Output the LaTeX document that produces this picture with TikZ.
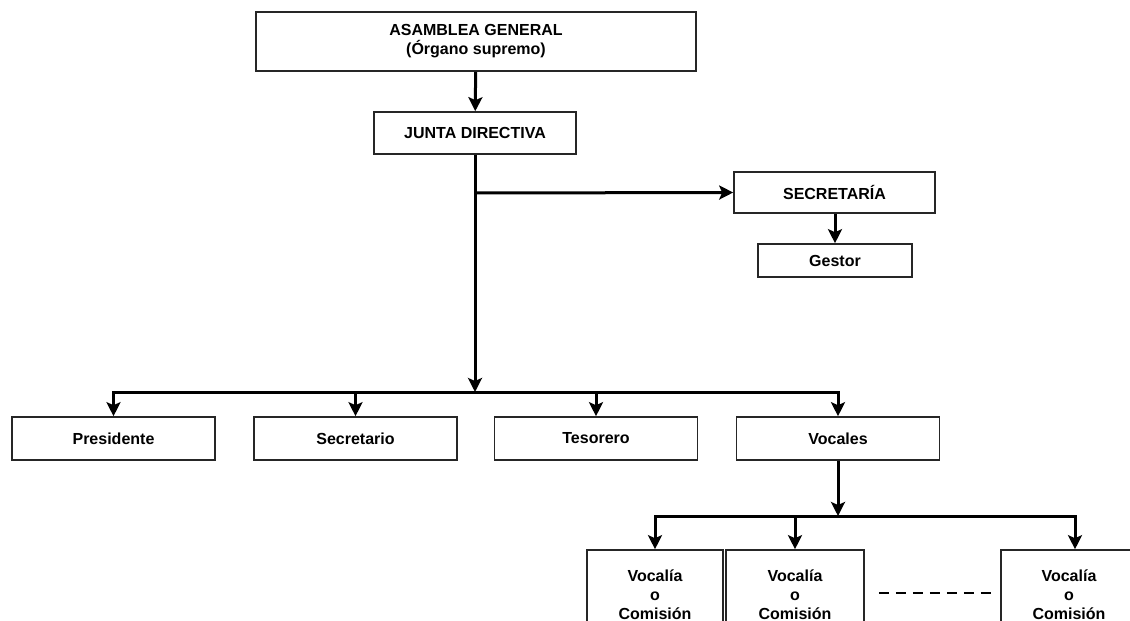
\documentclass[tikz,border=0pt]{standalone}
\usepackage{fontspec}
\setmainfont{Liberation Sans}
\usetikzlibrary{arrows.meta}

\tikzset{
  caja/.style={draw=black!85, line width=1.6pt, inner sep=0pt, align=center,
    font=\bfseries\fontsize{16}{19}\selectfont},
  flecha/.style={line width=3pt, -{Stealth[length=14pt,width=14pt,inset=3pt]}}
}

\begin{document}
\begin{tikzpicture}[x=1pt,y=-1pt]
\clip (0,0) rectangle (1130,621);
% niveles superiores
\node[caja, minimum width=440, minimum height=59] (asamblea) at (476,41.5) {ASAMBLEA GENERAL\\(Órgano supremo)};
\node[caja, minimum width=202, minimum height=42] (junta) at (475,133) {JUNTA DIRECTIVA};
\node[caja, minimum width=201, minimum height=41] (secretaria) at (834.5,192.5) {SECRETARÍA};
\node[caja, minimum width=154, minimum height=33] (gestor) at (835,260.5) {Gestor};
% cargos
\node[caja, minimum width=203, minimum height=43] (presidente) at (113.5,438.5) {Presidente};
\node[caja, minimum width=203, minimum height=43] (secretario) at (355.5,438.5) {Secretario};
\node[caja, minimum width=203, minimum height=43] (tesorero) at (596,438.5) {Tesorero};
\node[caja, minimum width=203, minimum height=43] (vocales) at (838,438.5) {Vocales};
% vocalias
\node[caja, minimum width=136, minimum height=90] (voc1) at (655,595) {Vocalía\\o\\Comisión};
\node[caja, minimum width=138, minimum height=90] (voc2) at (795,595) {Vocalía\\o\\Comisión};
\node[caja, minimum width=136, minimum height=90] (voc3) at (1069,595) {Vocalía\\o\\Comisión};

\coordinate (rama) at (475,193);
\coordinate (barra) at (475,392);
\coordinate (barra2) at (838,516);

\draw[flecha] (asamblea) -- (junta);
\draw[line width=3pt] (junta.south) -- (rama);
\draw[flecha] (rama) -- (secretaria.west);
\draw[flecha] (rama) -- (barra);
\draw[flecha] (gestor.north |- secretaria.south) -- (gestor.north);
\foreach \n in {presidente,secretario,tesorero,vocales}
  \draw[flecha] (barra) -| (\n.north);
\draw[flecha] (vocales.south) -- (barra2);
\draw[flecha] (barra2) -| (voc1.north);
\draw[flecha] (barra2) -| (voc2.north);
\draw[flecha] (barra2) -| ([xshift=6pt]voc3.north);
\draw[line width=2.2pt, dash pattern=on 10pt off 7pt] ([xshift=14pt,yshift=2pt]voc2.east) -- ([xshift=-9pt,yshift=2pt]voc3.west);
\end{tikzpicture}
\end{document}
